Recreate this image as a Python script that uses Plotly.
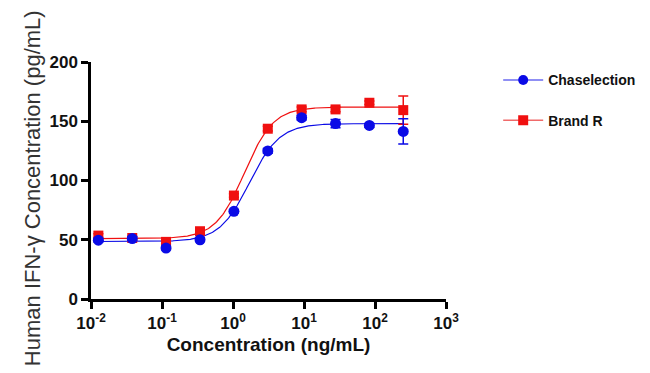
import numpy as np
import plotly.graph_objects as go

# Data
conc = [0.0127, 0.0381, 0.114, 0.343, 1.03, 3.09, 9.26, 27.8, 83.3, 250]
chase_vals = [49.6, 51, 43, 50, 74, 125, 153, 148, 146.5, 141.4]
chase_err = [1.5, 1.5, 1.5, 1.5, 1.5, 2, 2, 3.5, 1.5, 10.7]
brand_vals = [53.5, 51.5, 48.2, 57.2, 87.3, 143.7, 160, 160, 165.6, 159.4]
brand_err = [1.5, 1.5, 1.5, 1.5, 1.5, 2, 2, 2, 1.5, 12]

# 4PL fit parameters: bottom, top, EC50, hill
chase_fit = (48.5, 148, 1.71, 2.05)
brand_fit = (51, 162, 1.45, 2.13)

xtick_vals = [0.01, 0.1, 1, 10, 100, 1000]
xtick_text = ["10<sup>-2</sup>", "10<sup>-1</sup>", "10<sup>0</sup>", "10<sup>1</sup>", "10<sup>2</sup>", "10<sup>3</sup>"]
ytick_vals = [0, 50, 100, 150, 200]

BLUE = "#0a0ae6"
RED = "#f01010"
FONT = "Liberation Sans, Arial, sans-serif"


def fourpl(x, p):
    b, t, ec, h = p
    x = np.asarray(x)
    return b + (t - b) / (1 + (ec / x) ** h)


xc = np.logspace(np.log10(0.0127), np.log10(250), 300)

fig = go.Figure()
fig.add_trace(go.Scatter(x=xc, y=fourpl(xc, chase_fit), mode="lines",
                         line=dict(color=BLUE, width=1.2), showlegend=False, hoverinfo="skip"))
fig.add_trace(go.Scatter(x=xc, y=fourpl(xc, brand_fit), mode="lines",
                         line=dict(color=RED, width=1.2), showlegend=False, hoverinfo="skip"))
fig.add_trace(go.Scatter(x=conc, y=brand_vals, mode="markers",
                         marker=dict(symbol="square", size=10, color=RED),
                         error_y=dict(type="data", array=brand_err, color=RED, thickness=1.5, width=5),
                         showlegend=False))
fig.add_trace(go.Scatter(x=conc, y=chase_vals, mode="markers",
                         marker=dict(symbol="circle", size=11, color=BLUE),
                         error_y=dict(type="data", array=chase_err, color=BLUE, thickness=1.5, width=5),
                         showlegend=False))
# legend entries
fig.add_trace(go.Scatter(x=[None], y=[None], mode="lines+markers", name="Chaselection",
                         legendgroup="a",
                         line=dict(color="#6a6af0", width=1.5), marker=dict(symbol="circle", size=10, color=BLUE)))
fig.add_trace(go.Scatter(x=[None], y=[None], mode="lines+markers", name="Brand R",
                         legendgroup="b",
                         line=dict(color="#f06a6a", width=1.5), marker=dict(symbol="square", size=10, color=RED)))

fig.add_annotation(text="Human IFN-γ Concentration (pg/mL)", xref="paper", yref="paper",
                   x=-0.166, y=0.468, xanchor="center", yanchor="middle", textangle=-90,
                   showarrow=False, font=dict(size=22, family=FONT, color="#333333"))

fig.update_layout(
    width=650, height=373,
    margin=dict(l=83, r=212, t=54, b=82),
    paper_bgcolor="white", plot_bgcolor="white",
    font=dict(family=FONT, color="#111111"),
    legend=dict(x=1.147, y=0.99, xanchor="left", yanchor="top",
                font=dict(size=14, family=FONT, color="#111111", weight="bold"),
                traceorder="grouped", tracegroupgap=19, itemwidth=40,
                bgcolor="rgba(0,0,0,0)"),
    xaxis=dict(type="log", range=[-2, 3], tickvals=xtick_vals, ticktext=xtick_text,
               showline=True, linecolor="black", linewidth=2.5, ticks="outside",
               ticklen=7, tickwidth=2.5, tickcolor="black", showgrid=False, zeroline=False,
               automargin=False,
               tickfont=dict(size=17, family=FONT, color="#111111", weight="bold"),
               title=dict(text="Concentration (ng/mL)", standoff=6,
                          font=dict(size=19, family=FONT, color="#111111", weight="bold"))),
    yaxis=dict(range=[0, 200], tickvals=ytick_vals,
               showline=True, linecolor="black", linewidth=2.5, ticks="outside",
               ticklen=7, tickwidth=2.5, tickcolor="black", showgrid=False, zeroline=False,
               automargin=False,
               tickfont=dict(size=17, family=FONT, color="#111111", weight="bold")),
)

fig.write_html("out.html")
